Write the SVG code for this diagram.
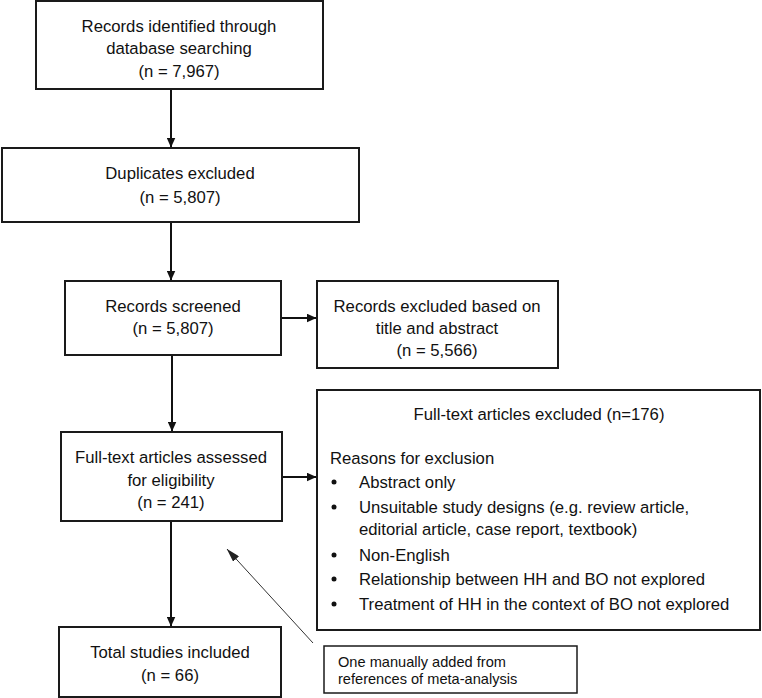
<svg xmlns="http://www.w3.org/2000/svg" width="762" height="698" viewBox="0 0 762 698">
<style>
.box{fill:#fff;stroke:#1a1a1a;stroke-width:2}
.t{font-family:"Liberation Sans",Arial,sans-serif;font-size:16.7px;fill:#111}
.c{text-anchor:middle}
.n{font-family:"Liberation Sans",Arial,sans-serif;font-size:14.6px;fill:#111}
.ln{stroke:#111;stroke-width:2;fill:none}
.thin{stroke:#333;stroke-width:1;fill:none}
</style>
<defs>
<marker id="ah" markerWidth="10" markerHeight="9" refX="9.5" refY="4.5" orient="auto" markerUnits="userSpaceOnUse">
<path d="M0,0 L10,4.5 L0,9 Z" fill="#111"/>
</marker>
<marker id="ahs" markerWidth="14" markerHeight="8" refX="13.5" refY="4" orient="auto" markerUnits="userSpaceOnUse">
<path d="M0,0 L14,4 L0,8 Z" fill="#222"/>
</marker>
</defs>
<g id="connectors">
<line class="ln" x1="171" y1="89" x2="171" y2="147" marker-end="url(#ah)"/>
<line class="ln" x1="171" y1="222" x2="171" y2="280" marker-end="url(#ah)"/>
<line class="ln" x1="281" y1="318" x2="316" y2="318" marker-end="url(#ah)"/>
<line class="ln" x1="172" y1="355" x2="172" y2="431" marker-end="url(#ah)"/>
<line class="ln" x1="282" y1="477" x2="316" y2="477" marker-end="url(#ah)"/>
<line class="ln" x1="171" y1="521" x2="171" y2="626" marker-end="url(#ah)"/>
<line class="thin" x1="313" y1="643" x2="227" y2="549" marker-end="url(#ahs)"/>
</g>
<g id="n1">
<rect class="box" x="36" y="1" width="287" height="88"/>
<text class="t c" x="179" y="32">Records identified through</text>
<text class="t c" x="179" y="54">database searching</text>
<text class="t c" x="179" y="77">(n = 7,967)</text>
</g>
<g id="n2">
<rect class="box" x="2" y="148" width="357" height="74"/>
<text class="t c" x="180" y="179">Duplicates excluded</text>
<text class="t c" x="180" y="203">(n = 5,807)</text>
</g>
<g id="n3">
<rect class="box" x="65" y="281" width="216" height="74"/>
<text class="t c" x="173" y="312">Records screened</text>
<text class="t c" x="173" y="334">(n = 5,807)</text>
</g>
<g id="n4">
<rect class="box" x="317" y="281" width="241" height="87"/>
<text class="t c" x="437" y="312">Records excluded based on</text>
<text class="t c" x="437" y="334">title and abstract</text>
<text class="t c" x="437" y="356">(n = 5,566)</text>
</g>
<g id="n5">
<rect class="box" x="61" y="432" width="221" height="89"/>
<text class="t c" x="171" y="463">Full-text articles assessed</text>
<text class="t c" x="171" y="486">for eligibility</text>
<text class="t c" x="171" y="508">(n = 241)</text>
</g>
<g id="n6">
<rect class="box" x="317" y="390" width="443" height="240"/>
<text class="t c" x="539" y="420">Full-text articles excluded (n=176)</text>
<text class="t" x="330" y="464">Reasons for exclusion</text>
<g fill="#111">
<circle cx="334" cy="482" r="2.5"/>
<circle cx="334" cy="507" r="2.5"/>
<circle cx="334" cy="555" r="2.5"/>
<circle cx="334" cy="579" r="2.5"/>
<circle cx="334" cy="604" r="2.5"/>
</g>
<text class="t" x="359" y="488">Abstract only</text>
<text class="t" x="359" y="513">Unsuitable study designs (e.g. review article,</text>
<text class="t" x="359" y="535">editorial article, case report, textbook)</text>
<text class="t" x="359" y="561">Non-English</text>
<text class="t" x="359" y="585">Relationship between HH and BO not explored</text>
<text class="t" x="359" y="610">Treatment of HH in the context of BO not explored</text>
</g>
<g id="n7">
<rect class="box" x="324" y="646" width="253" height="47" style="stroke-width:1.5"/>
<text class="n" x="338" y="667">One manually added from</text>
<text class="n" x="338" y="684">references of meta-analysis</text>
</g>
<g id="n8">
<rect class="box" x="59" y="627" width="222" height="70"/>
<text class="t c" x="170" y="658">Total studies included</text>
<text class="t c" x="170" y="681">(n = 66)</text>
</g>
</svg>
